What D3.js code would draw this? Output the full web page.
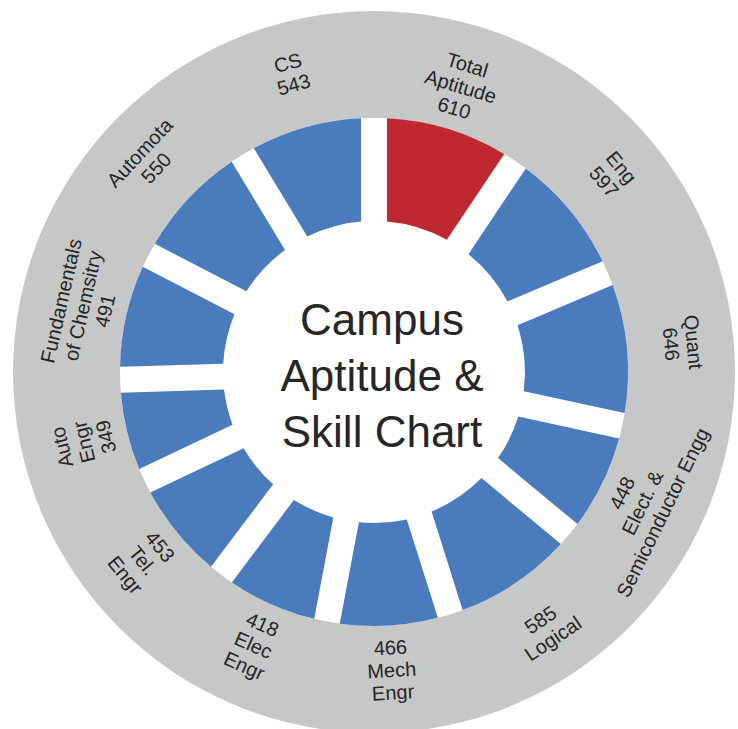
<!DOCTYPE html>
<html>
<head>
<meta charset="utf-8">
<script src="https://cdn.jsdelivr.net/npm/d3@7"></script>
<style>
  body { margin: 0; background: #fff; }
  svg { display: block; }
  text { font-family: "Liberation Sans", Arial, sans-serif; fill: #262626; }
</style>
</head>
<body>
<svg id="chart" width="738" height="729"></svg>
<script>
// --- data (clockwise from 12 o'clock) ---
const categories = [
  "Total\nAptitude", "Eng", "Quant", "Elect. &\nSemiconductor Engg", "Logical",
  "Mech\nEngr", "Elec\nEngr", "Tel.\nEngr", "Auto\nEngr",
  "Fundamentals\nof Chemsitry", "Automota", "CS"
];
const values = [610, 597, 646, 448, 585, 466, 418, 453, 349, 491, 550, 543];
const highlighted = ["Total\nAptitude"];
const titleLines = ["Campus", "Aptitude &", "Skill Chart"];

const rows = categories.map((c, i) => ({ name: c, value: values[i] }));

// --- geometry ---
const cx = 374, cy = 372;
const rRing = 361, rBar = 254, rInner = 151;
const labelR = 321, lineH = 22.5;

const svg = d3.select('#chart');
const g = svg.append('g').attr('transform', `translate(${cx},${cy})`);

// gray outer ring
g.append('circle').attr('r', rRing).attr('fill', '#c6c7c7');
g.append('circle').attr('r', rBar).attr('fill', '#fff');

const pie = d3.pie()
  .sort(null)
  .value(d => d.value)
  .padAngle(10 * Math.PI / 180);

const arc = d3.arc()
  .innerRadius(rInner)
  .outerRadius(rBar)
  .padRadius(149);

const slices = pie(rows);

g.selectAll('path.seg')
  .data(slices)
  .join('path')
  .attr('class', 'seg')
  .attr('d', arc)
  .attr('fill', d => highlighted.includes(d.data.name) ? '#bf2830' : '#4a7bbd');

// --- labels in the ring ---
slices.forEach(d => {
  const deg = (d.startAngle + d.endAngle) / 2 * 180 / Math.PI;
  const nameLines = d.data.name.split('\n');
  const bottom = deg > 95 && deg < 250;
  // value is always the innermost line
  const lines = bottom ? [String(d.data.value), ...nameLines] : [...nameLines, String(d.data.value)];
  const n = lines.length;

  const lg = g.append('g')
    .attr('transform', `rotate(${bottom ? deg - 180 : deg})`);

  lg.selectAll('text')
    .data(lines)
    .join('text')
    .attr('x', 0)
    .attr('y', (t, i) => bottom ? (labelR - (n - 1 - i) * lineH) : -(labelR - i * lineH))
    .attr('dy', '0.35em')
    .attr('text-anchor', 'middle')
    .style('font-size', '20px')
    .text(t => t);
});

// --- title in the middle ---
g.append('g')
  .selectAll('text')
  .data(titleLines)
  .join('text')
  .attr('x', 8)
  .attr('y', (t, i) => -37 + i * 56)
  .attr('text-anchor', 'middle')
  .style('font-size', '44px')
  .text(t => t);
</script>
</body>
</html>
